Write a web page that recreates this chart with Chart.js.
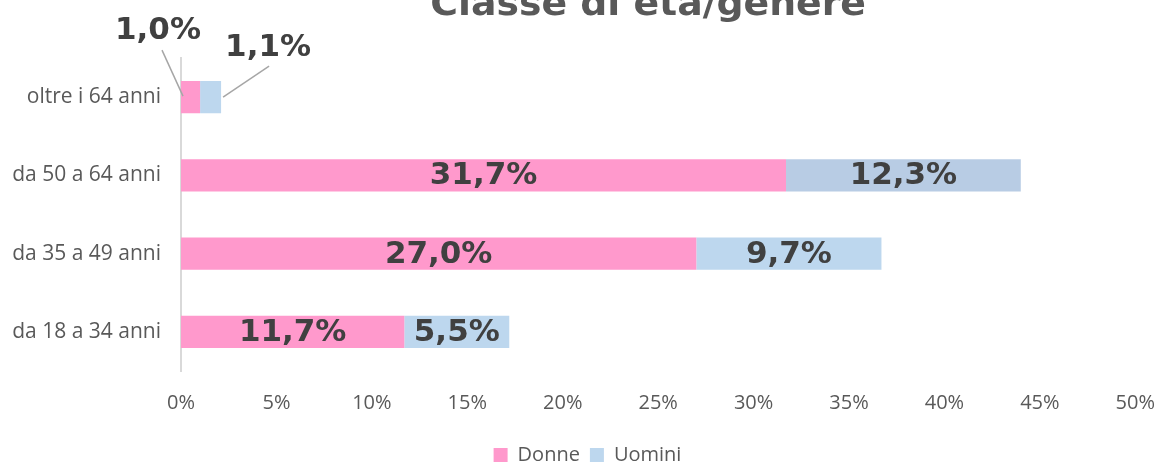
<!DOCTYPE html>
<html>
<head>
<meta charset="utf-8">
<script src="https://cdn.jsdelivr.net/npm/chart.js@4.4.0/dist/chart.umd.min.js"></script>
<style>
  html, body { margin:0; padding:0; background:#fff; overflow:hidden; }
  #wrap { position:relative; width:1175px; height:475px; }
</style>
</head>
<body>
<div id="wrap"><canvas id="chart" width="1175" height="475"></canvas></div>
<script>
'use strict';

// data
var categories = ['oltre i 64 anni', 'da 50 a 64 anni', 'da 35 a 49 anni', 'da 18 a 34 anni'];
var donne = [1.0, 31.7, 27.0, 11.7];
var uomini = [1.1, 12.3, 9.7, 5.5];
var xTicks = [0, 5, 10, 15, 20, 25, 30, 35, 40, 45, 50];
var chartTitle = 'Classe di età/genere';

var pink = '#FF99CC';
var blue = '#BDD7EE';
var labelFont = 'bold 31px "DejaVu Sans"';

function fmt(v){
    return v.toFixed(1).replace('.', ',') + '%';
}

function stretchedText(ctx, text, x, y, sx){
    ctx.save();
    ctx.translate(x, y);
    ctx.scale(sx, 1);
    ctx.fillText(text, 0, 0);
    ctx.restore();
}

// title + value labels drawn on top of the bars
var labelsPlugin = {
    id: 'labels',
    afterDatasetsDraw: function(chart){
        var ctx = chart.ctx;
        var area = chart.chartArea;
        ctx.save();
        ctx.fillStyle = '#595959';
        ctx.font = 'bold 36px "DejaVu Sans"';
        ctx.textAlign = 'center';
        ctx.textBaseline = 'alphabetic';
        stretchedText(ctx, chartTitle, (area.left + area.right) / 2 - 10, 15, 1.05);

        ctx.font = labelFont;
        ctx.fillStyle = '#404040';
        ctx.textBaseline = 'middle';
        chart.data.datasets.forEach(function(ds, di){
            var meta = chart.getDatasetMeta(di);
            meta.data.forEach(function(bar, i){
                var text = fmt(ds.data[i]);
                var left = Math.min(bar.base, bar.x), right = Math.max(bar.base, bar.x);
                if (right - left > 60) {
                    stretchedText(ctx, text, (left + right) / 2, bar.y + 1, 1);
                    return;
                }
                // small bars: label outside with leader line
                var lx, ly, p1, p2;
                if (di === 0) {
                    lx = left - 23; ly = bar.y - 66;
                    p1 = [left - 19, bar.y - 47]; p2 = [left + 2, bar.y - 1];
                } else {
                    lx = right + 47; ly = bar.y - 49;
                    p1 = [right + 48, bar.y - 31]; p2 = [right + 2, bar.y];
                }
                ctx.strokeStyle = '#A6A6A6';
                ctx.lineWidth = 1.5;
                ctx.beginPath();
                ctx.moveTo(p1[0], p1[1]);
                ctx.lineTo(p2[0], p2[1]);
                ctx.stroke();
                stretchedText(ctx, text, lx, ly, 1);
            });
        });
        ctx.restore();
    }
};

var ctx = document.getElementById('chart').getContext('2d');
var chart = new Chart(ctx, {
    type: 'bar',
    data: {
        labels: categories,
        datasets: [
            { label: 'Donne', data: donne, backgroundColor: pink },
            { label: 'Uomini', data: uomini,
              backgroundColor: [blue, '#B8CCE4', blue, blue] }
        ]
    },
    options: {
        indexAxis: 'y',
        responsive: false,
        animation: false,
        events: [],
        categoryPercentage: 1,
        barPercentage: 0.41,
        layout: { padding: { top: 58, right: 0, left: 0, bottom: 0 } },
        scales: {
            x: {
                stacked: true,
                min: 0,
                max: 50,
                afterBuildTicks: function(scale){
                    scale.ticks = xTicks.map(function(v){ return { value: v }; });
                },
                grid: { display: false, drawTicks: false },
                border: { display: false },
                ticks: {
                    padding: 20,
                    color: '#595959',
                    font: { family: '"Open Sans"', size: 20 },
                    callback: function(v){ return v + '%'; }
                },
                afterFit: function(scale){ scale.height = 64; }
            },
            y: {
                stacked: true,
                grid: { display: false, drawTicks: false },
                border: { display: true, color: '#D9D9D9', width: 2 },
                ticks: {
                    padding: 20,
                    color: '#595959',
                    font: { family: '"Open Sans"', size: 21 }
                },
                afterFit: function(scale){ scale.width = 181; }
            }
        },
        plugins: {
            legend: {
                position: 'bottom',
                labels: {
                    boxWidth: 14,
                    boxHeight: 14,
                    padding: 10,
                    color: '#595959',
                    font: { family: '"Open Sans"', size: 20 }
                }
            },
            tooltip: { enabled: false },
            title: { display: false }
        }
    },
    plugins: [labelsPlugin]
});
</script>
</body>
</html>
